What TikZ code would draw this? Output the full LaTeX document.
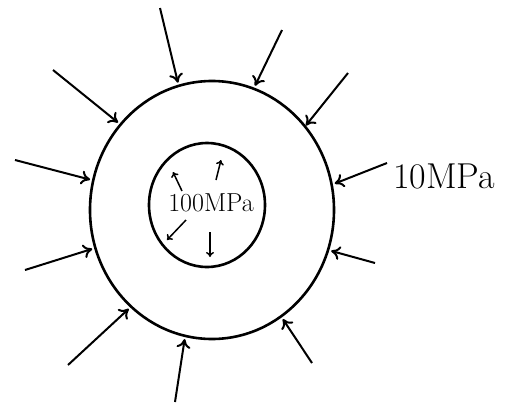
\documentclass[tikz,border=0pt]{standalone}
\usetikzlibrary{arrows.meta,shapes.geometric}
\begin{document}
\begin{tikzpicture}[x=1pt,y=-1pt,
  ring/.style={draw,ellipse,line width=2.6pt,inner sep=0pt},
  push/.style={line width=2pt,-{To[length=9pt,width=14pt,line width=2pt]},shorten >=2pt},
  small/.style={line width=1.5pt,-{To[length=5pt,width=8pt,line width=1.5pt]}},
  lbl/.style={inner sep=0pt}]
\useasboundingbox (0,0) rectangle (507,413);
\node[ring,minimum width=244pt,minimum height=258pt] (outer) at (212,210) {};
\node[ring,minimum width=116pt,minimum height=124pt] (inner) at (207,205) {};
\node[lbl,font=\fontsize{26}{28}\selectfont] (p1) at (211,203) {100MPa};
\node[lbl,font=\fontsize{36}{38}\selectfont,anchor=west] (p2) at (393,176) {10MPa};
% outer loads
\coordinate (s1) at (160,8);
\coordinate (s2) at (282,30);
\coordinate (s3) at (348,73);
\coordinate (s4) at (53,70);
\coordinate (s5) at (15,160);
\coordinate (s6) at (387,163);
\coordinate (s7) at (25,270);
\coordinate (s8) at (375,263);
\coordinate (s9) at (68,365);
\coordinate (s10) at (312,363);
\coordinate (s11) at (175,402);
\draw[push] (s1) -- (outer.105);
\draw[push] (s2) -- (outer.71);
\draw[push,shorten >=0pt] (s3) -- (outer.42);
\draw[push] (s4) -- (outer.137);
\draw[push] (s5) -- (outer.166);
\draw[push] (s6) -- (outer.12);
\draw[push] (s7) -- (outer.198);
\draw[push] (s8) -- (outer.341);
\draw[push] (s9) -- (outer.230);
\draw[push] (s10) -- (outer.303);
\draw[push] (s11) -- (outer.258);
% inner pressure
\coordinate (a1) at (182,191);
\coordinate (b1) at (173,172);
\coordinate (a2) at (216,180);
\coordinate (b2) at (221,160);
\coordinate (a3) at (186,220);
\coordinate (b3) at (167,240);
\coordinate (a4) at (210,232);
\coordinate (b4) at (210,257);
\draw[small] (a1) -- (b1);
\draw[small] (a2) -- (b2);
\draw[small] (a3) -- (b3);
\draw[small] (a4) -- (b4);
\end{tikzpicture}
\end{document}
